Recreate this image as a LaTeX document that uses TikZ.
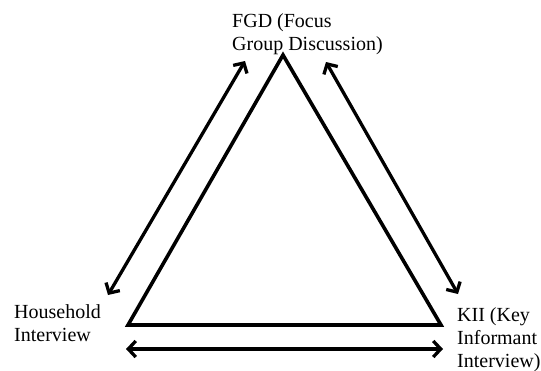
\documentclass[tikz,border=0pt]{standalone}
\usepackage{fontspec}
\setmainfont{Liberation Serif}
\usetikzlibrary{arrows.meta}
\begin{document}
\begin{tikzpicture}[x=1pt,y=-1pt,
  side/.style={line width=3.6pt,line join=miter},
  link/.style={line width=3.3pt,{Straight Barb[length=7.5pt,width=16pt]}-{Straight Barb[length=7.5pt,width=16pt]}},
  label/.style={anchor=base west,inner sep=0pt,font=\fontsize{20}{23}\selectfont}]
  \useasboundingbox (0,0) rectangle (541,370);
  % corners of the triangle
  \coordinate (top) at (283,55);
  \coordinate (bl) at (128,325);
  \coordinate (br) at (441,325);
  \draw[side] (top) -- (bl) -- (br) -- cycle;
  % ends of the two-way links
  \coordinate (l1) at (108,295);
  \coordinate (l2) at (245,61);
  \coordinate (r1) at (326,62);
  \coordinate (r2) at (458,294);
  \coordinate (b1) at (126,349);
  \coordinate (b2) at (443,349);
  \draw[link] (l1) -- (l2);
  \draw[link] (r1) -- (r2);
  \draw[link] (b1) -- (b2);
  % method labels
  \node[label] (fgd) at (232,27) {\begin{tabular}[t]{@{}l@{}}FGD (Focus\\Group Discussion)\end{tabular}};
  \node[label] (hh) at (14,318) {\begin{tabular}[t]{@{}l@{}}Household\\Interview\end{tabular}};
  \node[label] (kii) at (457,321) {\begin{tabular}[t]{@{}l@{}}KII (Key\\Informant\\Interview)\end{tabular}};
\end{tikzpicture}
\end{document}
